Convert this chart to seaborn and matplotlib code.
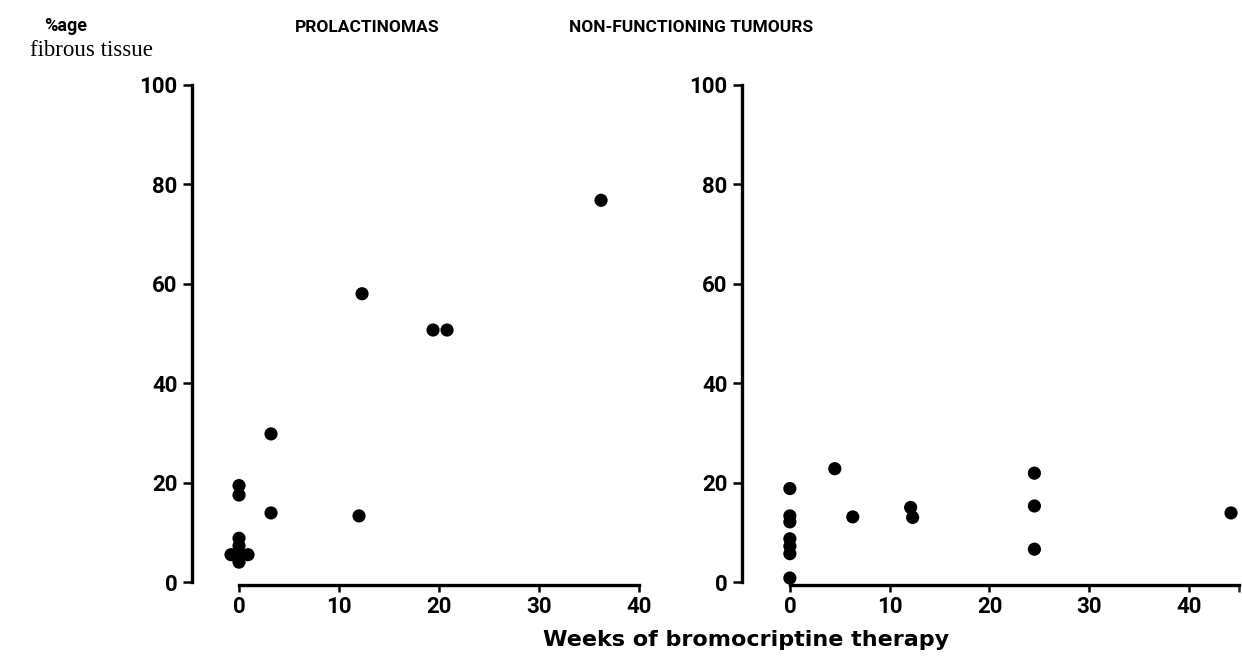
import matplotlib
matplotlib.use("Agg")
import matplotlib.pyplot as plt
import seaborn as sns
import pandas as pd

# Percentage fibrous tissue vs weeks of bromocriptine therapy
weeks_prolactinoma = [-0.8, 0.0, 0.9, 0.0, 0.0, 0.0, 0.0, 0.0, 3.2, 3.2, 12.0, 12.3, 19.4, 20.8, 36.2]
fibrous_prolactinoma = [5.5, 5.5, 5.5, 4.0, 7.3, 8.8, 17.5, 19.4, 29.8, 13.9, 13.3, 58.0, 50.7, 50.7, 76.8]

weeks_nonfunctioning = [0.0, 0.0, 0.0, 0.0, 0.0, 0.0, 0.0, 4.5, 6.3, 12.1, 12.3, 24.5, 24.5, 24.5, 44.2]
fibrous_nonfunctioning = [18.8, 13.3, 12.1, 8.7, 7.2, 5.7, 0.8, 22.8, 13.1, 15.0, 13.0, 21.9, 15.3, 6.6, 13.9]

panel_titles = ["PROLACTINOMAS", "NON-FUNCTIONING TUMOURS"]
y_ticks = [0, 20, 40, 60, 80, 100]
x_ticks = [0, 10, 20, 30, 40]

sns.set_style("ticks")
plt.rcParams["font.family"] = ["Roboto", "DejaVu Sans"]
plt.rcParams["text.color"] = "black"

fig = plt.figure(figsize=(12.42, 6.58), dpi=100)
ax_left = fig.add_axes([0.1546, 0.1117, 0.368, 0.7667])
ax_right = fig.add_axes([0.5974, 0.1117, 0.4026, 0.7667])

df_left = pd.DataFrame({"weeks": weeks_prolactinoma, "fibrous": fibrous_prolactinoma})
df_right = pd.DataFrame({"weeks": weeks_nonfunctioning, "fibrous": fibrous_nonfunctioning})

panels = [
    (ax_left, df_left, (-4.7, 41.0), 40),
    (ax_right, df_right, (-4.8, 45.3), 45),
]

for ax, df, xlim, x_end in panels:
    sns.scatterplot(data=df, x="weeks", y="fibrous", ax=ax, color="black",
                    s=90, edgecolor="none", linewidth=0, legend=False)
    ax.set_xlim(*xlim)
    ax.set_ylim(-0.5, 101)
    ax.set_xticks(x_ticks)
    ax.set_yticks(y_ticks)
    ax.set_xlabel("")
    ax.set_ylabel("")
    sns.despine(ax=ax)
    ax.spines["left"].set_bounds(0, 100)
    ax.spines["bottom"].set_bounds(0, x_end)
    for side in ("left", "bottom"):
        ax.spines[side].set_linewidth(2.4)
        ax.spines[side].set_color("black")
    ax.tick_params(axis="y", length=6.5, width=1.8, pad=4, labelsize=16, colors="black")
    ax.tick_params(axis="x", length=5, width=1.8, pad=3, labelsize=16, colors="black")
    for lbl in ax.get_xticklabels() + ax.get_yticklabels():
        lbl.set_fontweight("bold")
    if x_end != x_ticks[-1]:
        ax.set_xticks([x_end], minor=True)
        ax.tick_params(axis="x", which="minor", length=5, width=1.8)

fig.text(367 / 1242, 1 - 28 / 658, panel_titles[0], ha="center", va="center",
         fontsize=12.5, fontweight="bold")
fig.text(691 / 1242, 1 - 28 / 658, panel_titles[1], ha="center", va="center",
         fontsize=12.5, fontweight="bold")

fig.text(66 / 1242, 1 - 26 / 658, "%age", ha="center", va="center",
         fontsize=13, fontweight="bold")
fig.text(91 / 1242, 1 - 50 / 658, "fibrous tissue", ha="center", va="center",
         fontsize=16.5, family=["Liberation Serif", "DejaVu Serif"])

fig.text(746 / 1242, 1 - 640 / 658, "Weeks of bromocriptine therapy", ha="center",
         va="center", fontsize=16, fontweight="bold", family=["DejaVu Sans"])

fig.savefig("out.png", dpi=100, facecolor="white")
